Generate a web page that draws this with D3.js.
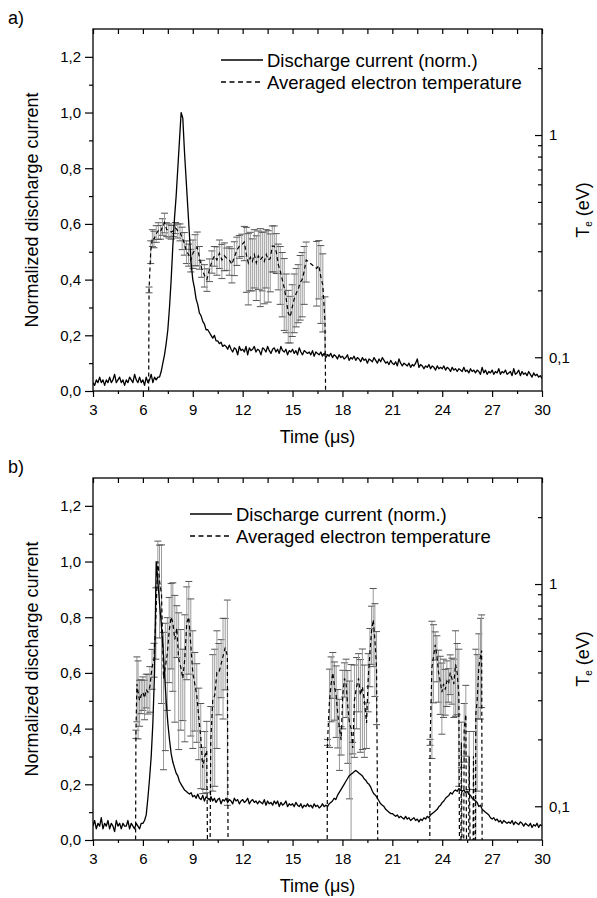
<!DOCTYPE html>
<html>
<head>
<meta charset="utf-8">
<script src="https://cdn.jsdelivr.net/npm/d3@7"></script>
<style>
  body { margin: 0; background: #fff; }
  svg text { font-family: "Liberation Sans", Arial, sans-serif; }
</style>
</head>
<body>
<div id="chart"></div>
<script>
// discharge current, sampled every 0.1 us from 3 us to 30 us
const currentStart = 3;
const currentStep = 0.1;

const currentA = [
  0.03,0.02,0.04,0.03,0.05,0.03,0.04,0.02,0.04,0.03,
  0.05,0.03,0.04,0.06,0.03,0.04,0.05,0.03,0.04,0.02,
  0.04,0.03,0.05,0.04,0.03,0.06,0.04,0.03,0.05,0.03,
  0.04,0.02,0.05,0.03,0.04,0.06,0.03,0.05,0.04,0.05,
  0.05,0.07,0.10,0.13,0.17,0.22,0.30,0.40,0.52,0.62,
  0.70,0.80,0.90,1.00,0.98,0.86,0.76,0.66,0.56,0.46,
  0.40,0.37,0.33,0.31,0.28,0.27,0.25,0.24,0.22,0.22,
  0.21,0.20,0.19,0.20,0.18,0.18,0.17,0.175,0.16,0.165,
  0.16,0.15,0.165,0.15,0.14,0.155,0.15,0.13,0.16,0.145,
  0.15,0.14,0.16,0.13,0.155,0.145,0.15,0.16,0.14,0.15,
  0.145,0.13,0.155,0.15,0.14,0.16,0.145,0.135,0.15,0.155,
  0.14,0.15,0.135,0.16,0.145,0.14,0.15,0.13,0.145,0.14,
  0.15,0.135,0.145,0.13,0.155,0.14,0.13,0.145,0.14,0.135,
  0.14,0.13,0.145,0.125,0.14,0.135,0.13,0.14,0.125,0.135,
  0.12,0.13,0.125,0.135,0.12,0.13,0.125,0.115,0.13,0.12,
  0.125,0.115,0.12,0.13,0.11,0.12,0.115,0.125,0.11,0.12,
  0.115,0.105,0.12,0.11,0.115,0.10,0.115,0.11,0.105,0.12,
  0.11,0.10,0.115,0.105,0.12,0.11,0.10,0.105,0.095,0.11,
  0.10,0.095,0.105,0.09,0.115,0.10,0.09,0.10,0.095,0.09,
  0.10,0.085,0.095,0.09,0.10,0.115,0.085,0.095,0.09,0.08,
  0.09,0.085,0.095,0.08,0.09,0.085,0.075,0.09,0.08,0.085,
  0.08,0.09,0.075,0.085,0.08,0.07,0.085,0.075,0.08,0.07,
  0.08,0.075,0.07,0.085,0.07,0.075,0.065,0.08,0.07,0.075,
  0.065,0.075,0.07,0.06,0.085,0.065,0.075,0.06,0.07,0.065,
  0.075,0.06,0.07,0.065,0.08,0.06,0.07,0.065,0.075,0.06,
  0.065,0.07,0.055,0.08,0.06,0.065,0.075,0.055,0.07,0.06,
  0.065,0.055,0.07,0.06,0.05,0.065,0.055,0.06,0.05,0.055,
  0.045
];

const currentB = [
  0.05,0.07,0.04,0.06,0.05,0.08,0.04,0.06,0.05,0.07,
  0.04,0.06,0.05,0.03,0.07,0.05,0.06,0.04,0.06,0.05,
  0.05,0.07,0.04,0.06,0.05,0.04,0.06,0.05,0.04,0.06,
  0.06,0.07,0.09,0.15,0.22,0.30,0.42,0.60,1.00,0.93,
  0.85,0.78,0.70,0.60,0.50,0.42,0.36,0.31,0.28,0.26,
  0.24,0.23,0.21,0.20,0.19,0.18,0.175,0.17,0.165,0.17,
  0.155,0.16,0.15,0.165,0.15,0.145,0.16,0.14,0.155,0.15,
  0.145,0.155,0.14,0.15,0.135,0.145,0.15,0.13,0.145,0.14,
  0.15,0.135,0.145,0.14,0.13,0.15,0.14,0.145,0.13,0.14,
  0.145,0.135,0.14,0.15,0.13,0.14,0.145,0.135,0.14,0.13,
  0.14,0.135,0.13,0.145,0.125,0.14,0.13,0.135,0.125,0.14,
  0.13,0.14,0.12,0.135,0.125,0.13,0.14,0.12,0.13,0.125,
  0.13,0.12,0.135,0.125,0.12,0.13,0.115,0.125,0.12,0.13,
  0.12,0.125,0.115,0.13,0.12,0.125,0.115,0.12,0.13,0.12,
  0.125,0.12,0.13,0.135,0.14,0.15,0.145,0.16,0.17,0.18,
  0.19,0.20,0.21,0.22,0.23,0.235,0.24,0.245,0.25,0.245,
  0.24,0.235,0.23,0.22,0.215,0.205,0.20,0.19,0.175,0.165,
  0.16,0.15,0.14,0.13,0.125,0.12,0.11,0.105,0.10,0.095,
  0.095,0.09,0.085,0.09,0.08,0.085,0.08,0.075,0.085,0.075,
  0.08,0.07,0.075,0.08,0.07,0.075,0.065,0.075,0.07,0.08,
  0.075,0.085,0.08,0.09,0.095,0.10,0.105,0.11,0.12,0.125,
  0.135,0.14,0.15,0.155,0.16,0.17,0.165,0.175,0.18,0.175,
  0.185,0.18,0.175,0.18,0.17,0.175,0.165,0.16,0.15,0.145,
  0.14,0.135,0.12,0.125,0.11,0.105,0.10,0.095,0.09,0.08,
  0.075,0.08,0.07,0.075,0.065,0.07,0.06,0.07,0.065,0.06,
  0.065,0.06,0.07,0.055,0.065,0.06,0.055,0.065,0.06,0.05,
  0.06,0.055,0.05,0.06,0.045,0.055,0.05,0.06,0.045,0.055,
  0.05
];

// averaged electron temperature (eV) with error; 0.01 marks a drop below the axis
const tempTimeA = [6.30,6.37,6.47,6.57,6.67,6.80,6.93,7.06,7.18,7.30,
  7.43,7.56,7.70,7.83,7.96,8.10,8.23,8.36,8.49,8.62,
  8.75,8.88,9.01,9.14,9.27,9.40,9.53,9.70,9.85,10.00,
  10.15,10.30,10.45,10.60,10.75,10.90,11.05,11.20,11.35,11.50,
  11.65,11.80,11.95,12.10,12.22,12.34,12.46,12.58,12.70,12.82,
  12.94,13.06,13.18,13.30,13.42,13.54,13.66,13.78,13.90,14.02,
  14.14,14.26,14.38,14.50,14.62,14.74,14.86,14.98,15.10,15.22,
  15.34,15.46,15.58,15.70,15.82,16.45,16.58,16.70,16.82,16.95,
  17.08];
const tempA = [0.01,0.201,0.299,0.345,0.340,0.360,0.371,0.366,0.387,0.404,
  0.376,0.371,0.366,0.371,0.382,0.371,0.366,0.345,0.326,0.299,
  0.290,0.274,0.294,0.307,0.312,0.282,0.251,0.234,0.224,0.248,
  0.270,0.286,0.274,0.294,0.274,0.286,0.278,0.274,0.262,0.282,
  0.303,0.316,0.321,0.330,0.290,0.266,0.282,0.270,0.290,0.266,
  0.286,0.274,0.282,0.270,0.290,0.274,0.278,0.316,0.316,0.299,
  0.262,0.244,0.224,0.205,0.183,0.158,0.152,0.168,0.183,0.194,
  0.202,0.217,0.224,0.244,0.274,0.251,0.259,0.230,0.211,0.145,
  0.01];
const tempErrA = [0,0.006,0.035,0.030,0.029,0.031,0.032,0.026,0.033,0.041,
  0.027,0.027,0.026,0.021,0.022,0.027,0.032,0.040,0.038,0.035,
  0.033,0.032,0.043,0.049,0.054,0.033,0.022,0.027,0.026,0.029,
  0.031,0.029,0.040,0.043,0.048,0.041,0.032,0.040,0.046,0.049,
  0.044,0.037,0.037,0.058,0.094,0.094,0.083,0.071,0.085,0.086,
  0.084,0.105,0.083,0.096,0.085,0.097,0.081,0.074,0.074,0.061,
  0.061,0.071,0.072,0.073,0.054,0.042,0.036,0.044,0.054,0.057,
  0.059,0.070,0.072,0.071,0.056,0.081,0.076,0.088,0.081,0.042,
  0];

const tempTimeB = [5.53,5.58,5.64,5.71,5.80,5.90,6.00,6.10,6.20,6.30,
  6.42,6.55,6.67,6.78,6.90,7.00,7.12,7.24,7.35,7.47,
  7.58,7.70,7.80,7.92,8.04,8.15,8.28,8.40,8.52,8.64,
  8.76,8.88,9.00,9.12,9.24,9.36,9.48,9.60,9.72,9.84,
  9.97,10.08,10.20,10.32,10.45,10.57,10.70,10.82,10.95,11.08,
  11.16,
  17.05,17.10,17.22,17.32,17.42,17.52,17.62,17.72,17.82,17.92,
  18.02,18.12,18.22,18.32,18.42,18.52,18.62,18.72,18.85,18.97,
  19.08,19.20,19.32,19.45,19.55,19.65,19.75,19.85,19.95,20.05,
  20.20,
  23.22,23.27,23.38,23.48,23.58,23.68,23.78,23.88,23.98,24.08,
  24.18,24.28,24.38,24.48,24.58,24.70,24.80,24.90,25.00,25.08,
  25.15,25.25,25.32,25.42,25.52,25.62,25.80,25.88,25.96,26.02,
  26.10,26.20,26.30,26.37,26.43];
const tempB = [0.01,0.211,0.355,0.326,0.299,0.316,0.326,0.307,0.335,0.326,
  0.345,0.422,0.461,0.710,1.265,1.034,0.895,0.376,0.422,0.488,
  0.615,0.710,0.671,0.564,0.633,0.461,0.422,0.376,0.461,0.671,
  0.710,0.532,0.399,0.355,0.316,0.251,0.205,0.149,0.168,0.178,
  0.01,0.194,0.299,0.316,0.399,0.399,0.435,0.474,0.517,0.474,
  0.01,
  0.01,0.194,0.299,0.355,0.399,0.345,0.316,0.259,0.224,0.199,
  0.316,0.376,0.355,0.282,0.237,0.224,0.183,0.299,0.345,0.376,
  0.316,0.345,0.299,0.237,0.376,0.488,0.615,0.690,0.564,0.422,
  0.01,
  0.01,0.194,0.422,0.474,0.532,0.474,0.399,0.366,0.326,0.355,
  0.335,0.366,0.355,0.399,0.376,0.355,0.435,0.399,0.316,0.01,
  0.194,0.01,0.224,0.259,0.01,0.168,0.01,0.168,0.01,0.259,
  0.299,0.422,0.474,0.502,0.01];
const tempErrB = [0,0.009,0.115,0.125,0.070,0.055,0.056,0.062,0.058,0.066,
  0.080,0.086,0.080,0.251,0.295,0.462,0.605,0.230,0.244,0.218,
  0.255,0.295,0.342,0.325,0.166,0.281,0.202,0.133,0.266,0.300,
  0.317,0.325,0.217,0.137,0.122,0.089,0.085,0.035,0.049,0.063,
  0,0.087,0.182,0.193,0.217,0.141,0.127,0.227,0.183,0.373,
  0,
  0,0.006,0.115,0.115,0.093,0.101,0.112,0.076,0.079,0.029,
  0.093,0.066,0.104,0.126,0.129,0.210,0.011,0.133,0.122,0.110,
  0.141,0.165,0.133,0.055,0.110,0.143,0.180,0.265,0.252,0.189,
  0,
  0,0.006,0.258,0.182,0.077,0.111,0.105,0.107,0.115,0.104,
  0.078,0.085,0.061,0.081,0.088,0.104,0.181,0.141,0.193,0,
  0.045,0,0.066,0.091,0,0.049,0,0.049,0,0.250,
  0.182,0.175,0.227,0.224,0];

const xTicks = [3, 6, 9, 12, 15, 18, 21, 24, 27, 30];
const xMinor = [4.5, 7.5, 10.5, 13.5, 16.5, 19.5, 22.5, 25.5, 28.5];
const yTicks = [0, 0.2, 0.4, 0.6, 0.8, 1.0, 1.2];
const yMinor = [0.1, 0.3, 0.5, 0.7, 0.9, 1.1];
const tempTicks = [0.1, 1];
const tempMinor = [0.2, 0.3, 0.4, 0.5, 0.6, 0.7, 0.8, 0.9, 2];
const legendLabels = ["Discharge current (norm.)", "Averaged electron temperature"];

const width = 597, height = 898;
const left = 93, right = 542, panelH = 362;
const font = "\"Liberation Sans\", Arial, sans-serif";

const panels = [
  { label: "a)", top: 29, current: currentA, time: tempTimeA, temp: tempA, err: tempErrA, legendX: 221, legendY: 31 },
  { label: "b)", top: 478, current: currentB, time: tempTimeB, temp: tempB, err: tempErrB, legendX: 190, legendY: 36 }
];

const svg = d3.select("#chart")
  .append("svg")
  .attr("width", width)
  .attr("height", height);

const comma = d => d3.format(".1f")(d).replace(".", ",");

panels.forEach((p, i) => drawPanel(p, i));

function drawPanel(p, i) {
  const bottom = p.top + panelH;
  const x = d3.scaleLinear().domain([3, 30]).range([left, right]);
  const y = d3.scaleLinear().domain([0, 1.3]).range([bottom, p.top]);
  const yT = d3.scaleLog().domain([0.0705, 3]).range([bottom, p.top]);

  svg.append("clipPath").attr("id", "clip" + i)
    .append("rect")
    .attr("x", left).attr("y", p.top)
    .attr("width", right - left).attr("height", panelH);

  const plot = svg.append("g").attr("clip-path", `url(#clip${i})`);

  // error bars
  const pts = p.time.map((t, k) => ({ t: t, T: p.temp[k], e: p.err[k] }))
    .filter(d => d.e > 0);
  const bars = plot.append("g").selectAll("g")
    .data(pts)
    .enter()
    .append("g");
  bars.append("line")
    .attr("x1", d => x(d.t)).attr("x2", d => x(d.t))
    .attr("y1", d => yT(Math.max(d.T - d.e, 0.001)))
    .attr("y2", d => yT(d.T + d.e))
    .attr("stroke", "#9a9a9a")
    .attr("stroke-width", 1);
  [d => d.T + d.e, d => Math.max(d.T - d.e, 0.001)].forEach(f => {
    bars.append("line")
      .attr("x1", d => x(d.t) - 3.5).attr("x2", d => x(d.t) + 3.5)
      .attr("y1", d => yT(f(d))).attr("y2", d => yT(f(d)))
      .attr("stroke", "#555")
      .attr("stroke-width", 1);
  });

  // temperature line
  plot.append("path")
    .datum(p.time.map((t, k) => [t, p.temp[k]]))
    .attr("fill", "none")
    .attr("stroke", "#000")
    .attr("stroke-width", 1.2)
    .attr("stroke-dasharray", "4,3")
    .attr("d", d3.line().x(d => x(d[0])).y(d => yT(d[1])));

  // discharge current
  plot.append("path")
    .datum(p.current.map((v, k) => [currentStart + k * currentStep, v]))
    .attr("fill", "none")
    .attr("stroke", "#000")
    .attr("stroke-width", 1.3)
    .attr("stroke-linejoin", "round")
    .attr("d", d3.line().x(d => x(d[0])).y(d => y(d[1])));

  // axes
  const axisStyle = g => {
    g.select(".domain").remove();
    g.selectAll("line").attr("stroke", "#000").attr("stroke-width", 1.2);
    g.selectAll("text").attr("font-size", 15).attr("font-family", font).attr("fill", "#000");
  };

  svg.append("g").attr("transform", `translate(0,${bottom})`)
    .call(d3.axisBottom(x).tickValues(xTicks).tickSize(6).tickPadding(7).tickFormat(d3.format("d")))
    .call(axisStyle);
  svg.append("g").attr("transform", `translate(0,${bottom})`)
    .call(d3.axisBottom(x).tickValues(xMinor).tickSize(3).tickFormat(""))
    .call(axisStyle);
  svg.append("g").attr("transform", `translate(0,${p.top})`)
    .call(d3.axisTop(x).tickValues(xTicks.concat(xMinor)).tickSize(-5).tickFormat(""))
    .call(axisStyle);

  svg.append("g").attr("transform", `translate(${left},0)`)
    .call(d3.axisLeft(y).tickValues(yTicks).tickSize(8).tickPadding(4).tickFormat(comma))
    .call(axisStyle);
  svg.append("g").attr("transform", `translate(${left},0)`)
    .call(d3.axisLeft(y).tickValues(yMinor).tickSize(4).tickFormat(""))
    .call(axisStyle);

  svg.append("g").attr("transform", `translate(${right},0)`)
    .call(d3.axisRight(yT).tickValues(tempTicks).tickSize(-7).tickPadding(7)
      .tickFormat(d => d >= 1 ? "1" : "0,1"))
    .call(axisStyle);
  svg.append("g").attr("transform", `translate(${right},0)`)
    .call(d3.axisRight(yT).tickValues(tempMinor).tickSize(-4).tickFormat(""))
    .call(axisStyle);

  svg.append("rect")
    .attr("x", left).attr("y", p.top)
    .attr("width", right - left).attr("height", panelH)
    .attr("fill", "none")
    .attr("stroke", "#000")
    .attr("stroke-width", 1.3);

  // titles
  svg.append("text")
    .attr("x", 8).attr("y", p.top - 5)
    .attr("font-size", 18)
    .text(p.label);

  svg.append("text")
    .attr("x", (left + right) / 2).attr("y", bottom + 52)
    .attr("text-anchor", "middle")
    .attr("font-size", 18)
    .text("Time (\u03bcs)");

  svg.append("text")
    .attr("transform", `translate(38,${p.top + panelH / 2}) rotate(-90)`)
    .attr("text-anchor", "middle")
    .attr("font-size", 18)
    .text("Normalized discharge current");

  const tl = svg.append("text")
    .attr("transform", `translate(589,${p.top + panelH / 2}) rotate(-90)`)
    .attr("text-anchor", "middle")
    .attr("font-size", 18);
  tl.append("tspan").text("T");
  tl.append("tspan").attr("font-size", 10).attr("dy", 3).text("e");
  tl.append("tspan").attr("dy", -3).text(" (eV)");

  // legend
  legendLabels.forEach((lab, k) => {
    const ly = p.top + p.legendY + k * 22;
    svg.append("line")
      .attr("x1", p.legendX).attr("x2", p.legendX + 42)
      .attr("y1", ly).attr("y2", ly)
      .attr("stroke", "#000")
      .attr("stroke-width", 1.3)
      .attr("stroke-dasharray", k === 1 ? "5,3.5" : null);
    svg.append("text")
      .attr("x", p.legendX + 46).attr("y", ly + 6.5)
      .attr("font-size", 18.5)
      .text(lab);
  });
}
</script>
</body>
</html>
